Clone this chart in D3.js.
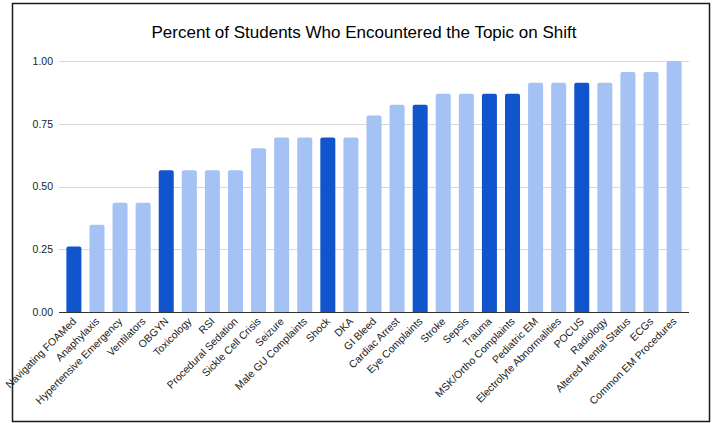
<!DOCTYPE html>
<html>
<head>
<meta charset="utf-8">
<script src="https://cdn.jsdelivr.net/npm/d3@7"></script>
<style>
  html, body { margin: 0; padding: 0; background: #fff; }
  svg { display: block; }
  text { font-family: "Liberation Sans", Arial, sans-serif; }
</style>
</head>
<body>
<svg id="chart" width="716" height="423"></svg>
<script>
// Topics, in display order
const topics = [
  "Navigating FOAMed", "Anaphylaxis", "Hypertensive Emergency", "Ventilators",
  "OBGYN", "Toxicology", "RSI", "Procedural Sedation", "Sickle Cell Crisis",
  "Seizure", "Male GU Complaints", "Shock", "DKA", "GI Bleed", "Cardiac Arrest",
  "Eye Complaints", "Stroke", "Sepsis", "Trauma", "MSK/Ortho Complaints",
  "Pediatric EM", "Electrolyte Abnormalities", "POCUS", "Radiology",
  "Altered Mental Status", "ECGs", "Common EM Procedures"
];

// Share of students (out of 23) who encountered each topic
const shares = [
  6/23, 8/23, 10/23, 10/23,
  13/23, 13/23, 13/23, 13/23, 15/23,
  16/23, 16/23, 16/23, 16/23, 18/23, 19/23,
  19/23, 20/23, 20/23, 20/23, 20/23,
  21/23, 21/23, 21/23, 21/23,
  22/23, 22/23, 23/23
];

// Topics shown in the highlight colour
const highlighted = ["Navigating FOAMed", "OBGYN", "Shock", "Eye Complaints",
                     "Trauma", "MSK/Ortho Complaints", "POCUS"];

const yTicks = [0, 0.25, 0.5, 0.75, 1.0];
const title = "Percent of Students Who Encountered the Topic on Shift";

const svg = d3.select("#chart");

// Outer frame
svg.append("rect")
  .attr("x", 12.5).attr("y", 3.5)
  .attr("width", 697).attr("height", 418)
  .attr("fill", "#fff")
  .attr("stroke", "#1a1a1a")
  .attr("stroke-width", 1.5);

const plot = { left: 59, right: 689, top: 61, bottom: 312 };

const x = d3.scaleBand()
  .domain(topics)
  .range([plot.left, plot.right])
  .paddingInner(0.35)
  .paddingOuter(0.32);

const y = d3.scaleLinear()
  .domain([0, 1])
  .range([plot.bottom, plot.top]);

// Title
svg.append("text")
  .attr("x", 364).attr("y", 38)
  .attr("text-anchor", "middle")
  .attr("font-size", 17)
  .attr("fill", "#000")
  .text(title);

// Gridlines
svg.append("g")
  .selectAll("line")
  .data(yTicks.filter(d => d > 0))
  .join("line")
  .attr("x1", plot.left).attr("x2", plot.right)
  .attr("y1", d => Math.round(y(d)) + 0.5)
  .attr("y2", d => Math.round(y(d)) + 0.5)
  .attr("stroke", "#d9d9d9")
  .attr("stroke-width", 1);

// Y axis labels
const yAxis = d3.axisLeft(y)
  .tickValues(yTicks)
  .tickFormat(d3.format(".2f"))
  .tickSize(0)
  .tickPadding(6);
const gy = svg.append("g")
  .attr("transform", `translate(${plot.left},0)`)
  .call(yAxis);
gy.select(".domain").remove();
gy.selectAll("text")
  .attr("font-size", 10.5)
  .attr("fill", "#222")
  .attr("font-family", "Liberation Sans, Arial, sans-serif");

// Bars with slightly rounded tops
const r = 2;
function barPath(d, i) {
  const x0 = x(topics[i]);
  const w = x.bandwidth();
  const yt = y(d);
  const yb = y(0);
  return `M${x0},${yb} L${x0},${yt + r} Q${x0},${yt} ${x0 + r},${yt} ` +
         `L${x0 + w - r},${yt} Q${x0 + w},${yt} ${x0 + w},${yt + r} L${x0 + w},${yb} Z`;
}

svg.append("g")
  .selectAll("path")
  .data(shares)
  .join("path")
  .attr("d", barPath)
  .attr("fill", (d, i) => highlighted.includes(topics[i]) ? "#1155cc" : "#a4c2f4");

// Baseline
svg.append("line")
  .attr("x1", plot.left).attr("x2", plot.right)
  .attr("y1", plot.bottom + 0.5).attr("y2", plot.bottom + 0.5)
  .attr("stroke", "#333")
  .attr("stroke-width", 1);

// X axis labels, rotated
const xAxis = d3.axisBottom(x).tickSize(0).tickPadding(0);
const gx = svg.append("g")
  .attr("transform", `translate(0,${plot.bottom})`)
  .call(xAxis);
gx.select(".domain").remove();
gx.selectAll(".tick text")
  .attr("font-size", 10.5)
  .attr("fill", "#222")
  .attr("font-family", "Liberation Sans, Arial, sans-serif")
  .attr("text-anchor", "end")
  .attr("dy", null)
  .attr("y", 0)
  .attr("transform", "translate(3,10) rotate(-45)");
</script>
</body>
</html>
